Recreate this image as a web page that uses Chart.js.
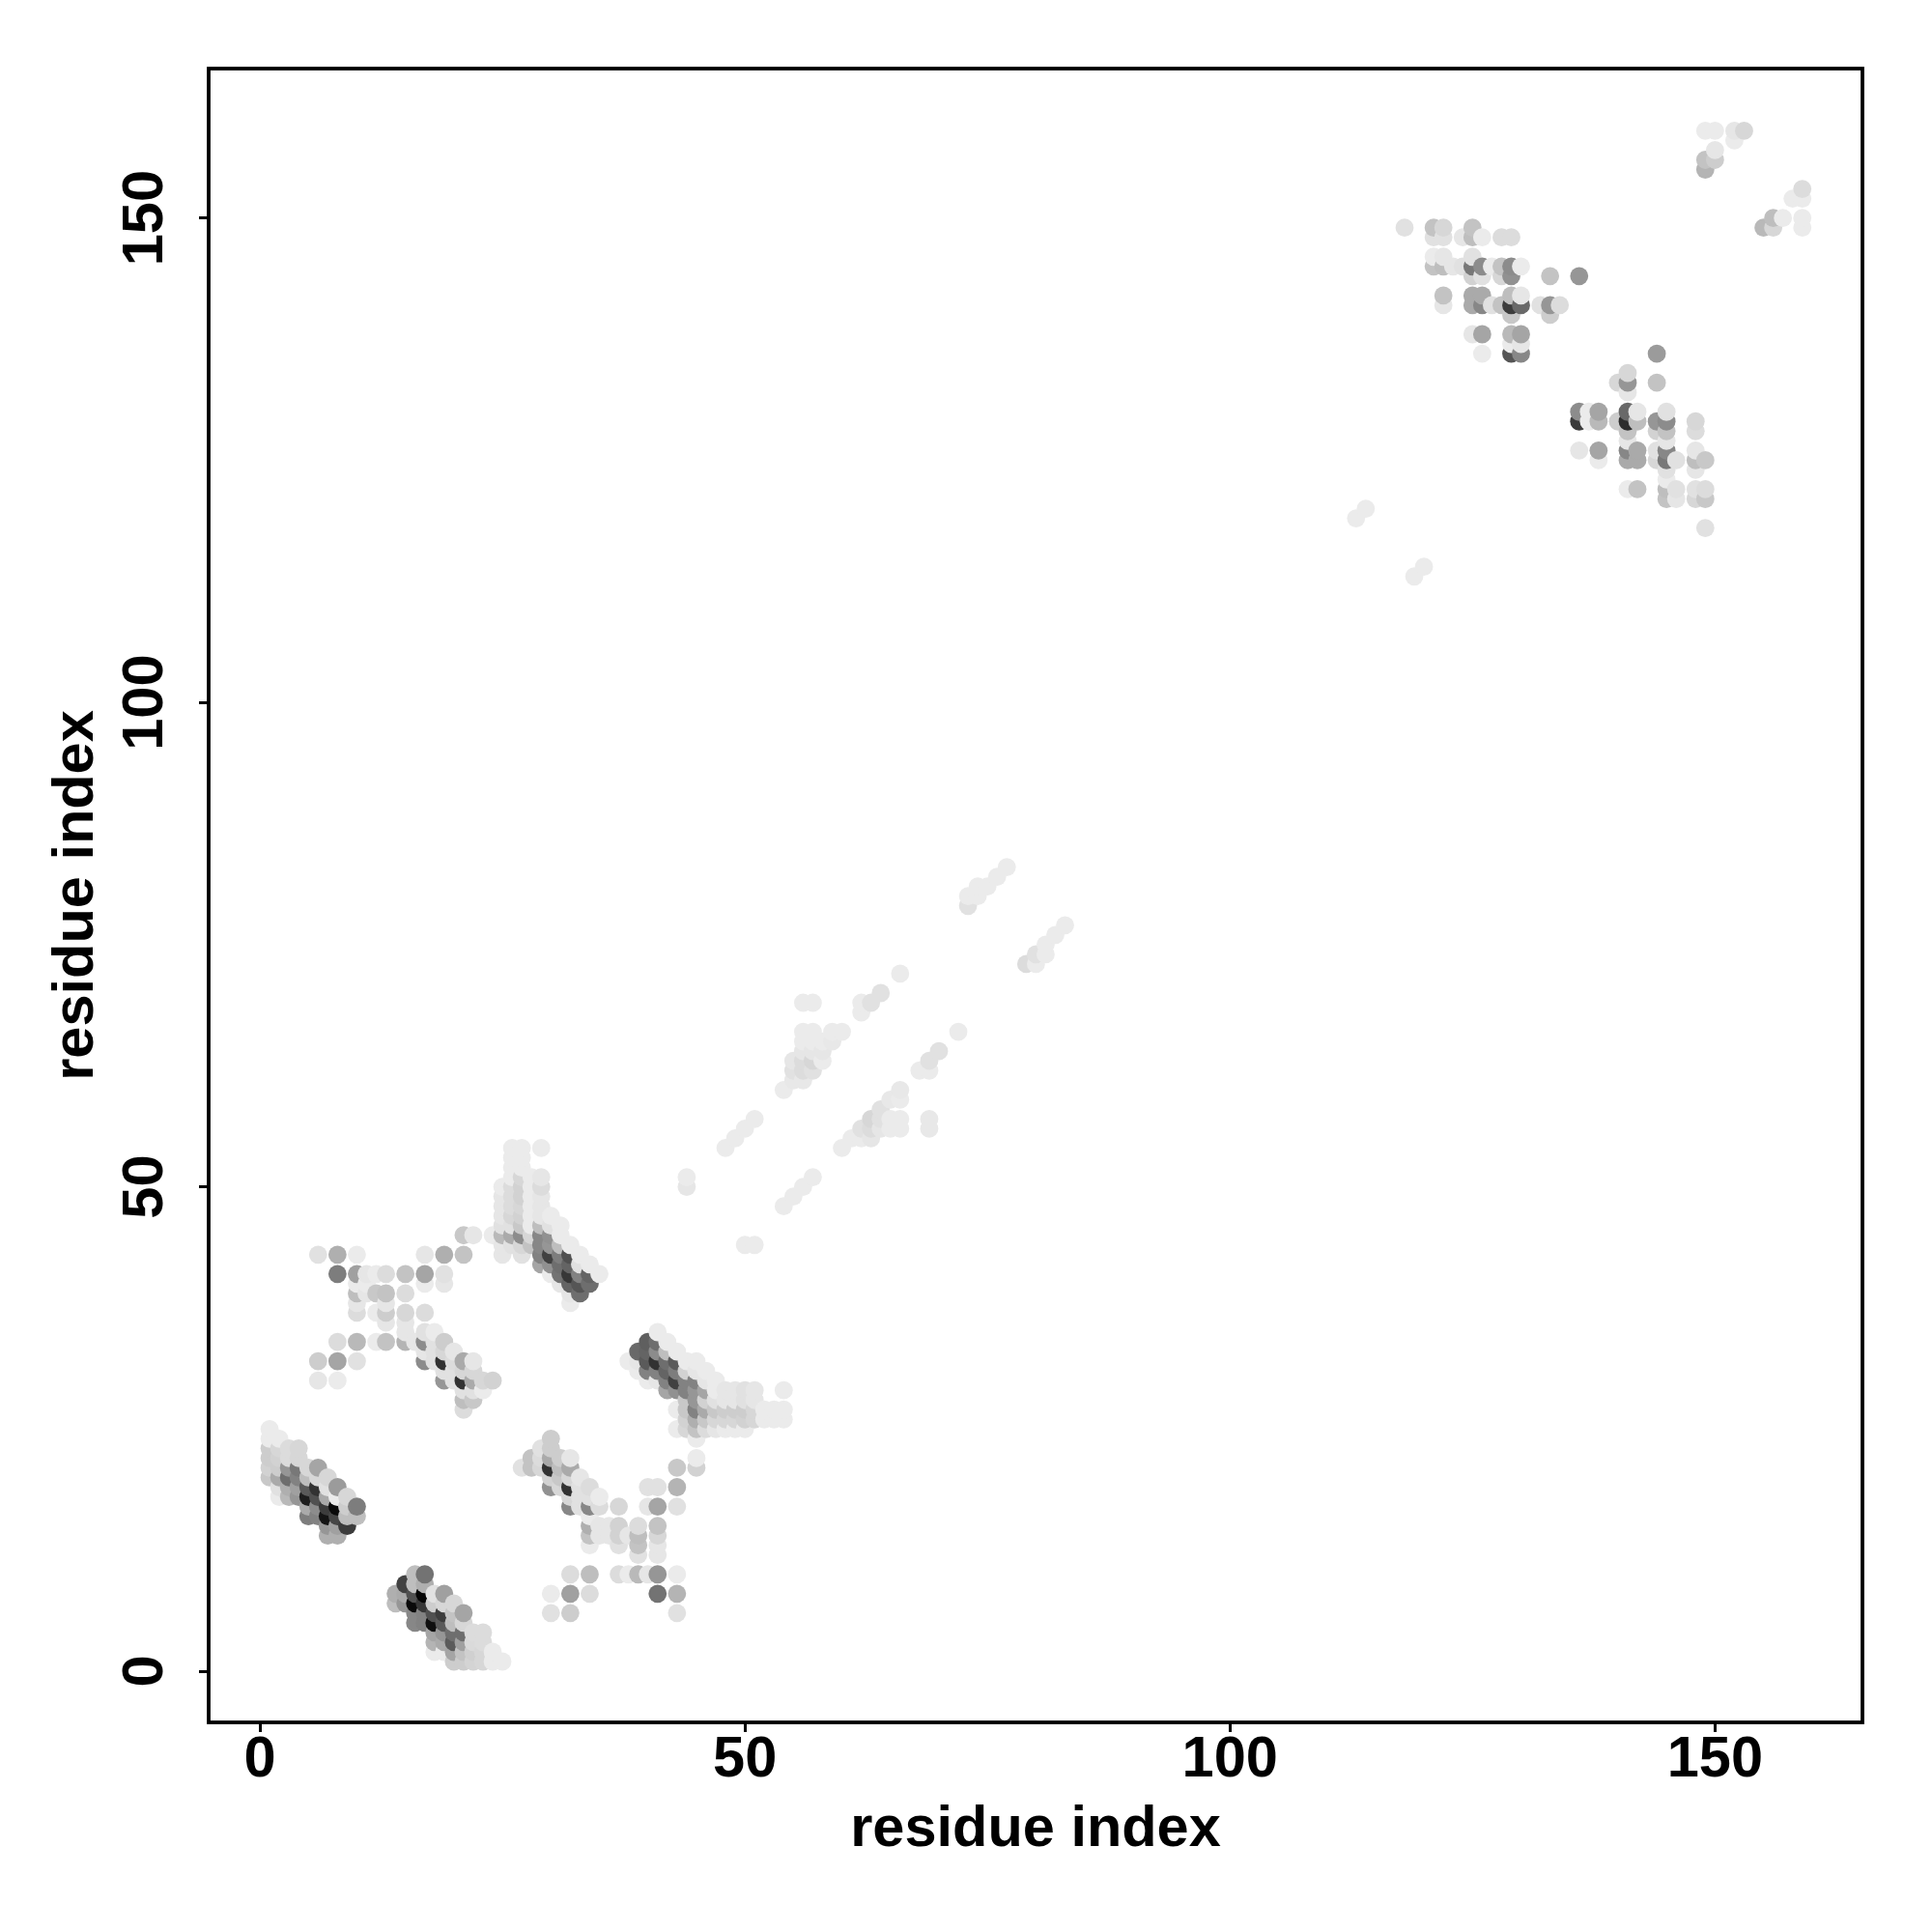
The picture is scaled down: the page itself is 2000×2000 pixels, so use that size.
<!DOCTYPE html>
<html><head><meta charset="utf-8">
<script src="https://cdn.jsdelivr.net/npm/chart.js@4"></script>
<style>html,body{margin:0;padding:0;background:#fff}canvas{display:block}</style>
</head><body><canvas id="c" width="2000" height="2000"></canvas>
<script>
// each entry: [residue i, residue j, grey level of the contact]
const helixA = [[1,25,235],[1,24,235],[1,23,205],[1,22,205],[1,21,210],[1,20,200],[2,24,235],[2,23,215],[2,22,210],[2,21,205],[2,20,170],[2,19,225],[2,18,235],[3,23,220],[3,22,220],[3,21,150],[3,20,110],[3,19,175],[3,18,185],[4,23,215],[4,22,215],[4,21,120],[4,20,130],[4,19,160],[4,18,150],[5,21,215],[5,20,190],[5,19,90],[5,18,30],[5,17,170],[5,16,125],[6,21,165],[6,20,215],[6,19,50],[6,18,80],[6,17,140],[6,16,130],[7,20,215],[7,19,225],[7,18,170],[7,17,60],[7,16,20],[7,15,150],[7,14,175],[8,19,155],[8,18,235],[8,17,10],[8,16,70],[8,15,160],[8,14,175],[9,18,215],[9,17,205],[9,16,190],[9,15,60],[10,17,125],[10,16,190]];
const helixB = [[14,8,175],[14,7,190],[15,9,65],[15,8,170],[15,7,150],[16,10,190],[16,9,190],[16,8,80],[16,7,10],[16,6,135],[16,5,135],[17,10,115],[17,9,175],[17,8,5],[17,7,55],[17,6,130],[17,5,130],[18,8,225],[18,7,205],[18,6,80],[18,5,15],[18,4,165],[18,3,180],[18,2,235],[19,8,160],[19,7,215],[19,6,60],[19,5,90],[19,4,150],[19,3,170],[19,2,235],[20,7,215],[20,6,195],[20,5,190],[20,4,110],[20,3,90],[20,2,165],[20,1,205],[21,6,165],[21,5,215],[21,4,110],[21,3,160],[21,2,195],[21,1,205],[22,4,220],[22,3,218],[22,2,208],[22,1,212],[23,4,220],[23,3,220],[23,2,215],[23,1,215],[24,2,235],[24,1,235],[25,1,235]];
const crossC = [[27,21,225],[28,22,195],[28,21,195],[29,23,225],[29,22,220],[29,21,215],[30,24,205],[30,23,205],[30,22,170],[30,21,50],[30,20,210],[30,19,145],[30,8,235],[30,6,225],[31,22,205],[31,21,190],[31,20,200],[31,19,215],[32,22,230],[32,21,170],[32,20,215],[32,19,50],[32,18,215],[32,17,135],[32,10,220],[32,8,160],[32,6,205],[33,20,230],[33,19,225],[33,18,225],[33,17,225],[34,19,220],[34,18,225],[34,17,135],[34,16,235],[34,15,175],[34,14,195],[34,13,235],[34,10,190],[34,8,220],[35,18,235],[35,17,220],[35,15,230],[35,14,230],[36,15,230],[36,14,230],[37,17,215],[37,15,210],[37,14,210],[37,13,225],[37,10,220],[38,14,230],[38,10,235],[39,15,220],[39,14,190],[39,13,195],[39,12,225],[39,10,185],[40,19,225],[40,17,230],[40,10,230],[41,19,225],[41,17,165],[41,15,195],[41,14,215],[41,13,230],[41,12,230],[41,10,150],[41,8,115],[43,21,200],[43,19,180],[43,17,225],[43,10,235],[43,8,180],[43,6,225],[45,22,235],[45,21,210]];
const crossD = [[6,43,225],[8,43,175],[10,43,235],[17,43,230],[19,43,175],[21,43,195],[8,41,125],[10,41,160],[11,41,230],[12,41,235],[13,41,220],[15,41,195],[17,41,165],[19,41,225],[10,40,235],[11,40,235],[17,40,235],[19,40,230],[10,39,190],[11,39,230],[12,39,200],[13,39,195],[15,39,220],[10,38,230],[13,38,230],[10,37,220],[12,37,235],[13,37,205],[15,37,215],[17,37,220],[13,36,230],[15,36,230],[15,35,230],[17,35,225],[18,35,235],[8,34,220],[10,34,185],[12,34,235],[13,34,195],[15,34,180],[16,34,230],[17,34,140],[18,34,225],[19,34,205],[17,33,230],[18,33,225],[19,33,215],[20,33,230],[6,32,205],[8,32,165],[10,32,225],[17,32,140],[18,32,225],[19,32,50],[20,32,220],[21,32,170],[22,32,230],[19,31,225],[20,31,225],[21,31,215],[22,31,215],[6,30,230],[8,30,235],[19,30,150],[20,30,225],[21,30,50],[22,30,170],[23,30,215],[24,30,210],[21,29,225],[22,29,225],[23,29,235],[21,28,190],[22,28,200],[21,27,220],[21,45,200],[22,45,230]];
const helixE = [[24,45,235],[25,50,235],[25,49,230],[25,48,230],[25,47,230],[25,46,225],[25,45,185],[25,44,230],[25,43,230],[26,54,235],[26,53,235],[26,52,235],[26,51,235],[26,50,220],[26,49,220],[26,48,220],[26,47,215],[26,46,225],[26,45,170],[26,44,225],[27,54,235],[27,53,235],[27,52,235],[27,51,215],[27,50,210],[27,49,210],[27,48,215],[27,47,210],[27,46,200],[27,45,140],[27,44,215],[27,43,225],[28,51,235],[28,50,235],[28,49,235],[28,48,235],[28,47,235],[28,46,235],[28,45,215],[28,44,195],[29,54,235],[29,51,230],[29,50,220],[29,49,230],[29,48,230],[29,47,230],[29,46,190],[29,45,135],[29,44,135],[29,43,130],[29,42,165],[30,47,235],[30,46,225],[30,45,145],[30,44,150],[30,43,65],[30,42,145],[30,41,235],[31,46,235],[31,45,235],[31,44,190],[31,43,125],[31,42,110],[31,41,115],[31,40,230],[32,44,235],[32,43,80],[32,42,100],[32,41,55],[32,40,100],[32,39,230],[32,38,235],[33,43,235],[33,42,225],[33,41,130],[33,40,85],[33,39,110],[34,42,235],[34,41,100],[34,40,110],[35,41,235]];
const helixF = [[38,32,235],[39,33,105],[39,32,230],[39,31,235],[40,34,95],[40,33,100],[40,32,90],[40,31,130],[40,30,235],[41,35,235],[41,34,110],[41,33,140],[41,32,50],[41,31,130],[41,30,230],[42,34,235],[42,33,190],[42,32,110],[42,31,100],[42,30,130],[42,29,165],[43,33,235],[43,32,90],[43,31,125],[43,30,65],[43,29,145],[43,27,235],[43,25,235],[44,32,235],[44,31,210],[44,30,130],[44,29,130],[44,28,200],[44,27,200],[44,26,210],[44,25,215],[45,32,235],[45,31,230],[45,30,130],[45,29,150],[45,28,150],[45,27,130],[45,26,175],[45,25,195],[45,24,235],[46,31,235],[46,30,230],[46,29,165],[46,28,210],[46,27,170],[46,26,200],[46,25,220],[47,30,235],[47,29,235],[47,28,225],[47,27,200],[47,26,215],[47,25,230],[48,29,230],[48,28,230],[48,27,205],[48,26,215],[48,25,235],[49,29,230],[49,28,230],[49,27,205],[49,26,215],[49,25,235],[50,29,225],[50,28,225],[50,27,205],[50,26,210],[50,25,235],[51,29,230],[51,28,230],[51,27,215],[51,26,215],[52,27,235],[52,26,235],[53,27,235],[53,26,235],[54,29,235],[54,27,235],[54,26,235]];
const weakStrands = [[44,51,235],[44,50,230],[48,54,235],[49,55,235],[50,56,235],[51,57,235],[50,44,235],[51,44,235],[54,48,235],[55,49,235],[56,50,235],[57,51,235],[54,60,235],[55,63,230],[55,62,225],[55,61,232],[56,69,235],[56,66,235],[56,65,235],[56,64,230],[56,63,220],[56,62,220],[56,61,232],[57,69,235],[57,66,235],[57,65,235],[57,64,230],[57,63,215],[57,62,225],[58,65,235],[58,64,230],[58,63,235],[59,66,235],[59,65,232],[60,66,235],[62,69,235],[62,68,235],[63,69,225],[64,70,225],[66,72,235],[73,80,235],[73,79,225],[74,81,235],[74,80,235],[75,81,235],[76,82,235],[77,83,235],[79,73,220],[80,74,225],[80,73,235],[81,75,235],[81,74,235],[82,76,235],[83,77,235],[60,54,235],[61,55,235],[62,56,225],[62,55,235],[63,57,215],[63,56,220],[63,55,230],[64,58,225],[64,57,225],[64,56,230],[65,59,232],[65,57,235],[65,56,235],[66,60,232],[66,59,235],[66,57,235],[66,56,235],[69,57,232],[69,56,232],[68,62,235],[69,63,225],[69,62,235],[70,64,225],[72,66,235],[113,119,235],[114,120,235],[119,113,235],[120,114,235]];
const sheetG = [[118,149,225],[121,149,195],[121,148,225],[122,149,215],[122,148,225],[124,148,230],[125,149,195],[125,148,190],[126,148,235],[128,148,220],[129,148,220],[121,146,235],[121,145,195],[122,146,230],[122,145,190],[123,145,230],[124,145,225],[125,146,225],[125,145,120],[125,144,210],[126,145,140],[126,144,225],[127,145,235],[128,145,195],[128,144,215],[129,145,140],[129,144,145],[130,145,235],[133,144,195],[136,144,150],[122,142,195],[122,141,230],[125,142,170],[125,141,170],[126,142,170],[126,141,135],[127,141,225],[128,141,195],[129,142,190],[129,141,60],[129,140,200],[130,142,230],[130,141,105],[132,141,225],[133,141,150],[133,140,205],[134,141,220],[125,138,230],[126,138,165],[129,138,185],[130,138,165],[129,137,235],[130,137,230],[126,136,235],[129,136,85],[130,136,135]];
const sheetH = [[144,136,155],[140,133,215],[141,134,215],[141,133,150],[141,132,230],[144,133,195],[136,130,140],[136,129,60],[137,130,235],[137,129,235],[138,130,165],[138,129,185],[140,129,205],[141,130,105],[141,129,45],[141,128,195],[142,130,230],[142,129,190],[144,129,150],[144,128,210],[145,130,225],[145,129,140],[145,128,195],[148,129,215],[148,128,220],[136,126,230],[138,126,165],[138,125,235],[141,127,230],[141,126,135],[141,125,170],[142,126,170],[142,125,170],[144,126,225],[144,125,215],[145,127,230],[145,126,135],[145,125,120],[145,124,225],[146,125,225],[148,126,230],[148,125,190],[148,124,230],[149,125,200],[141,122,235],[142,122,195],[145,123,235],[145,122,190],[145,121,195],[146,122,225],[146,121,230],[148,122,225],[148,121,215],[149,122,220],[149,121,200],[149,118,225]];
const sheetI = [[149,159,235],[150,159,235],[152,159,230],[153,159,215],[152,158,235],[150,157,230],[149,156,195],[150,156,205],[149,155,180],[159,153,220],[158,152,235],[159,152,235],[157,150,235],[156,150,190],[156,149,215],[155,149,185],[159,150,235],[159,149,235]];
const axisTicks = [0, 50, 100, 150];
const xLabel = "residue index";
const yLabel = "residue index";

const contacts = [...helixA, ...helixB, ...crossC, ...crossD, ...helixE, ...helixF, ...weakStrands, ...sheetG, ...sheetH, ...sheetI]
  .sort((a, b) => a[0] - b[0] || a[1] - b[1]);

const font = { family: '"Liberation Sans", Arial, sans-serif', size: 59.5, weight: 'bold', lineHeight: 1 };
const boxPlugin = {
  id: 'box',
  afterDraw(chart) {
    const a = chart.chartArea, g = chart.ctx;
    g.save(); g.strokeStyle = '#000'; g.lineWidth = 3.8;
    g.strokeRect(a.left, a.top, a.right - a.left, a.bottom - a.top);
    g.restore();
  }
};
const tickSet = s => { s.ticks = axisTicks.map(v => ({ value: v })); };
new Chart(document.getElementById('c'), {
  type: 'scatter',
  data: { datasets: [{
    data: contacts.map(c => ({ x: c[0], y: c[1] })),
    pointBackgroundColor: contacts.map(c => `rgb(${c[2]},${c[2]},${c[2]})`),
    pointBorderWidth: 0, pointRadius: 9.4, pointHoverRadius: 9.4
  }] },
  options: {
    responsive: false, animation: false,
    layout: { padding: { top: 71, right: 72, left: 0, bottom: 0 } },
    plugins: { legend: { display: false }, tooltip: { enabled: false } },
    scales: {
      x: {
        type: 'linear', min: -5.28, max: 165.2,
        afterBuildTicks: tickSet,
        afterFit(s) { s.height = 217; },
        border: { display: false },
        grid: { drawOnChartArea: false, drawTicks: true, tickLength: 10, tickColor: '#000', tickWidth: 3 },
        ticks: { color: '#000', font, padding: 0, maxRotation: 0, autoSkip: false },
        title: { display: true, text: xLabel, color: '#000', font, padding: { top: 0, bottom: 76 } }
      },
      y: {
        type: 'linear', min: -5.28, max: 165.42,
        afterBuildTicks: tickSet,
        afterFit(s) { s.width = 216; },
        border: { display: false },
        grid: { drawOnChartArea: false, drawTicks: true, tickLength: 10, tickColor: '#000', tickWidth: 3 },
        ticks: { color: '#000', font, padding: 5, minRotation: 90, maxRotation: 90, crossAlign: 'center', autoSkip: false },
        title: { display: true, text: yLabel, color: '#000', font, padding: { top: 50, bottom: 0 } }
      }
    }
  },
  plugins: [boxPlugin]
});
</script></body></html>
